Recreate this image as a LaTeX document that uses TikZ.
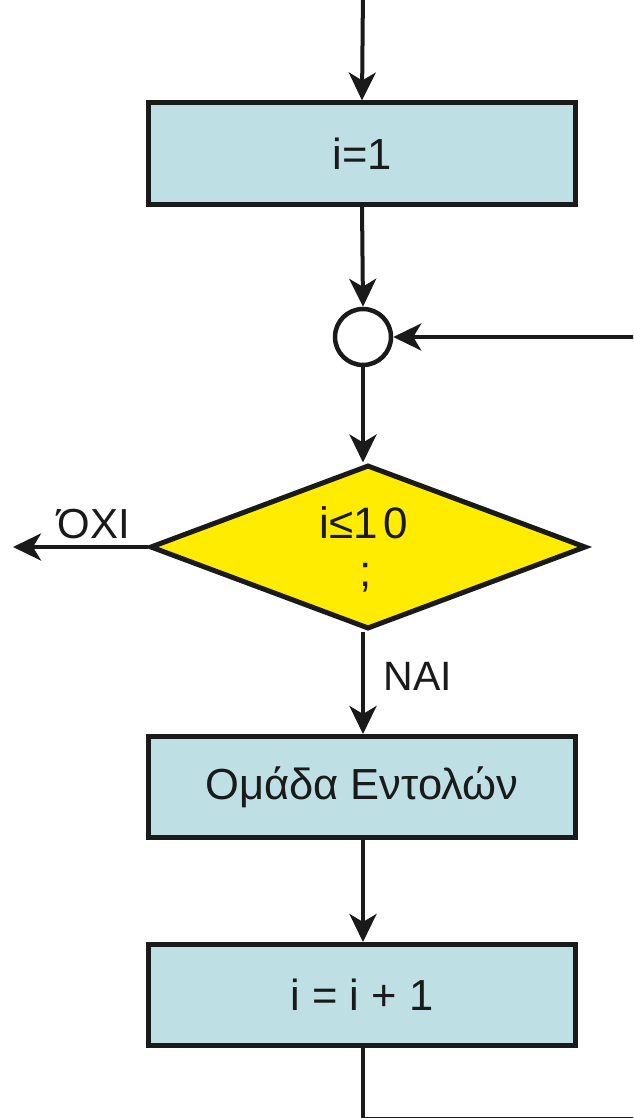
\documentclass[tikz,border=0pt]{standalone}
\usepackage{fontspec}
\setmainfont{Liberation Sans}
\usetikzlibrary{arrows.meta,shapes.geometric}
\definecolor{boxblue}{HTML}{BEE0E5}
\definecolor{decyellow}{HTML}{FFEC00}
\definecolor{ink}{HTML}{1A1A1A}
\tikzset{
  procbox/.style={draw=ink, line width=5pt, fill=boxblue, rectangle,
    minimum width=427pt, minimum height=101pt, inner sep=0pt,
    font=\fontsize{43.5}{52}\selectfont, text=ink},
  joincirc/.style={draw=ink, line width=4.5pt, fill=white, circle,
    minimum size=56pt, inner sep=0pt},
  decshape/.style={draw=ink, line width=5pt, fill=decyellow, diamond,
    minimum width=436pt, minimum height=164pt, inner sep=0pt},
  dectext/.style={font=\fontsize{44}{52}\selectfont, text=ink, inner sep=0pt},
  lbl/.style={font=\fontsize{41}{48}\selectfont, text=ink, inner sep=0pt},
  flow/.style={draw=ink, line width=4pt,
    -{Stealth[length=28pt,width=27pt,inset=8pt]}},
  plain/.style={draw=ink, line width=4pt}
}
\begin{document}
\begin{tikzpicture}[x=1pt,y=-1pt]
\useasboundingbox (0,0) rectangle (633,1118);
\clip (0,0) rectangle (633,1118);
\coordinate (top) at (363,-10);
\coordinate (rin) at (645,337);
\coordinate (corner) at (363,1119);
\coordinate (rout) at (645,1119);
\coordinate (noend) at (13,547);

\node[procbox] (init) at (362,153.5) {i=1};
\node[joincirc] (join) at (363,337) {};
\node[decshape] (dec) at (368,547) {};
\node[dectext] (cond) at (364,523) {i≤1\kern6pt 0};
\node[dectext] (semi) at (366,578) {;};
\node[procbox] (body) at (362,787) {Ομάδα Εντολών};
\node[procbox] (incr) at (362,995) {i = i + 1};

\node[lbl, font=\fontsize{42}{50}\selectfont] (no) at (94,524) {ΌΧΙ};
\node[lbl] (yes) at (418,676) {ΝΑΙ};

\draw[flow] (top) -- (init.north);
\draw[flow] (init.south) -- (join.north);
\draw[flow] (rin) -- (join.east);
\draw[flow] (join.south) -- (join.south |- dec.north);
\draw[flow] (dec.west) -- (noend);
\draw[flow] (dec.south -| join.south) -- (body.north -| join.south);
\draw[flow] (body.south -| join.south) -- (incr.north -| join.south);
\draw[plain] (incr.south -| join.south) -- (corner) -- (rout);
\end{tikzpicture}
\end{document}
